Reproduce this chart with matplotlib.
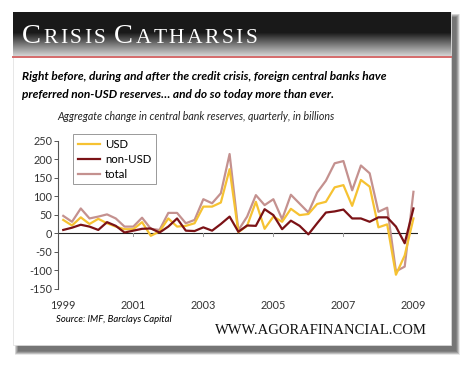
import numpy as np
import matplotlib
matplotlib.use("Agg")
import matplotlib.pyplot as plt
from matplotlib.patches import Rectangle

# quarterly change in central bank reserves, billions (1999Q1 .. 2009Q1)
quarters = 1999 + np.arange(41) / 4
usd = [36, 21, 43, 25, 39, 27, 18, 11, 11, 30, -7, 5, 40, 18, 20, 27, 72, 72, 83, 173,
       3, 20, 85, 12, 45, 31, 66, 49, 52, 79, 85, 124, 130, 74, 144, 126, 16, 24, -112, -60, 40]
non_usd = [9, 15, 23, 18, 9, 30, 20, 2, 7, 12, 13, 2, 18, 40, 7, 6, 16, 7, 25, 45,
           4, 21, 20, 65, 49, 11, 34, 20, -3, 27, 56, 59, 64, 40, 40, 31, 43, 43, 18, -27, 67]
total = [47, 31, 67, 40, 45, 51, 40, 18, 18, 42, 12, 9, 55, 55, 27, 36, 92, 81, 108, 214,
         8, 45, 103, 76, 92, 38, 104, 80, 56, 110, 142, 189, 195, 116, 183, 162, 58, 69, -103, -90, 112]
year_ticks = [1999, 2001, 2003, 2005, 2007, 2009]
y_ticks = [-150, -100, -50, 0, 50, 100, 150, 200, 250]

W, H = 470, 366
fig = plt.figure(figsize=(W / 100, H / 100), dpi=100)

# background layer in pixel coordinates
bg = fig.add_axes([0, 0, 1, 1])
bg.set_xlim(0, W)
bg.set_ylim(H, 0)
bg.axis("off")

# card shadow (soft)
for k in range(8):
    bg.add_patch(Rectangle((13 + 5 - k * 0.5, 12 + 5 - k * 0.5), 438 + k, 333 + k + 1,
                           facecolor="black", alpha=0.09, edgecolor="none", zorder=1))
bg.add_patch(Rectangle((13, 12), 438, 333, facecolor="white", edgecolor="#dddddd",
                       linewidth=0.5, zorder=2))

# title bar gradient
grad = np.concatenate([np.full(20, 0.10), np.linspace(0.10, 0.82, 24)])
bg.imshow(grad[:, None], cmap="gray", vmin=0, vmax=1, aspect="auto",
          extent=(13, 451, 56, 12), zorder=3)
bg.plot([13, 451], [57, 57], color="#d46a6a", linewidth=1.4, zorder=3)

# small caps title, letter by letter with a little tracking
fig.canvas.draw()
renderer = fig.canvas.get_renderer()
x = 22
for word in ["Crisis", "Catharsis"]:
    for i, ch in enumerate(word):
        size = 20.5 if i == 0 else 15.5
        t = fig.text(x / W, 1 - 43 / H, ch.upper(), fontsize=size, color="white",
                     family="Liberation Serif", va="baseline", ha="left", zorder=5)
        x += t.get_window_extent(renderer).width + 2.4
    x += 6

fig.text(22 / W, 1 - 77 / H,
         "Right before, during and after the credit crisis, foreign central banks have",
         fontsize=8.6, fontweight="bold", fontstyle="italic", family="Lato", va="center")
fig.text(22 / W, 1 - 94 / H,
         "preferred non-USD reserves\u2026 and do so today more than ever.",
         fontsize=8.6, fontweight="bold", fontstyle="italic", family="Lato", va="center")
fig.text(57 / W, 1 - 117 / H,
         "Aggregate change in central bank reserves, quarterly, in billions",
         fontsize=7.7, fontstyle="italic", family="Lato", va="center", color="#222222")

# chart
ax = fig.add_axes([58 / W, 1 - 288.8 / H, 360 / W, (288.8 - 140.7) / H])
ax.patch.set_alpha(0)
ax.set_xlim(1998.85, 2009.13)
ax.set_ylim(-150, 250)

ax.plot(quarters, total, color="#c4918f", linewidth=1.6, label="total", zorder=3)
ax.plot(quarters, usd, color="#f6c232", linewidth=1.6, label="USD", zorder=4)
ax.plot(quarters, non_usd, color="#7b1216", linewidth=1.6, label="non-USD", zorder=5)
ax.axhline(0, color="#222222", linewidth=0.8, zorder=2)
for yr in year_ticks[1:-1]:
    ax.plot([yr, yr], [0, -7], color="#999999", linewidth=0.7, zorder=2)

for s in ["top", "right", "bottom"]:
    ax.spines[s].set_visible(False)
ax.spines["left"].set_color("#555555")
ax.spines["left"].set_linewidth(0.8)
ax.set_yticks(y_ticks)
ax.set_yticklabels([str(v) for v in y_ticks], family="Lato", fontsize=7.8, color="#333333")
ax.tick_params(axis="y", length=3, width=0.7, color="#555555", pad=1)
ax.set_xticks(year_ticks)
ax.set_xticklabels([str(v) for v in year_ticks], family="Lato", fontsize=7.8, color="#333333")
ax.tick_params(axis="x", length=0, pad=8)

handles, labels = ax.get_legend_handles_labels()
order = [1, 2, 0]
leg = ax.legend([handles[i] for i in order], [labels[i] for i in order],
                loc="upper left", bbox_to_anchor=(73 / W, 1 - 134 / H),
                bbox_transform=fig.transFigure, fancybox=False, framealpha=1,
                edgecolor="#999999", handlelength=2.0, handletextpad=0.4,
                borderpad=0.4, labelspacing=0.35, borderaxespad=0,
                prop={"family": "Lato", "size": 8.2})
leg.get_frame().set_linewidth(0.7)

fig.text(56 / W, 1 - 319 / H, "Source: IMF, Barclays Capital", fontsize=6.8,
         fontstyle="italic", family="Lato", va="center")
fig.text(427 / W, 1 - 331 / H, "WWW.AGORAFINANCIAL.COM", fontsize=10.5,
         family="Liberation Serif", va="center", ha="right", color="#111111")

fig.savefig("out.png", dpi=100)
